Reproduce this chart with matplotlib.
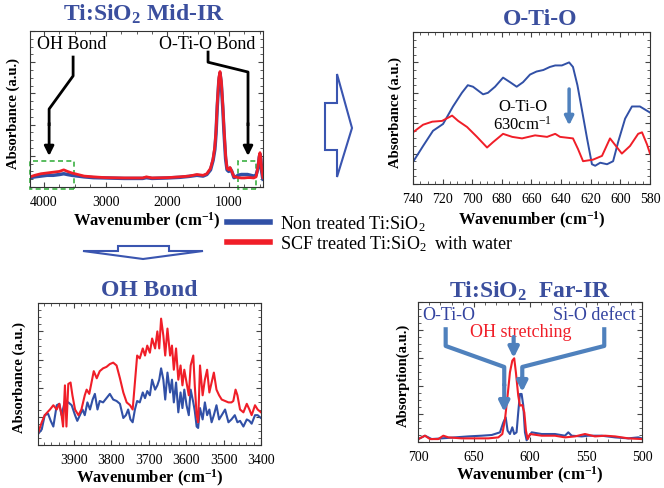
import matplotlib
matplotlib.use("Agg")
import matplotlib.pyplot as plt
from matplotlib.patches import Polygon, Rectangle
from matplotlib.lines import Line2D
from matplotlib.ticker import MultipleLocator

plt.rcParams['font.family'] = ['Liberation Serif', 'DejaVu Serif']
plt.rcParams['mathtext.default'] = 'regular'

BLUE = '#3150a6'
RED = '#f01e28'
TITLE = '#3b4f9e'
STEEL = '#4f81bd'

# ---- Mid-IR overview (wavenumber cm-1, absorbance a.u.)
mid_wn = [4225, 4150, 4050, 3950, 3850, 3750, 3680, 3620, 3550, 3450, 3350, 3200, 3000, 2700,
          2400, 2340, 2250, 2000, 1800, 1650, 1520, 1420, 1360, 1300, 1259, 1230, 1211, 1190,
          1165, 1146, 1125, 1100, 1081, 1055, 1032, 1005, 984, 955, 919, 890, 854, 800, 750,
          700, 650, 600, 562, 530, 510, 498, 485, 470, 455, 449]
mid_blue = [0.06, 0.065, 0.07, 0.075, 0.075, 0.08, 0.085, 0.08, 0.075, 0.07, 0.065, 0.06, 0.058,
            0.055, 0.055, 0.06, 0.055, 0.058, 0.062, 0.068, 0.075, 0.07, 0.08, 0.11, 0.17, 0.24,
            0.34, 0.52, 0.68, 0.73, 0.66, 0.50, 0.35, 0.18, 0.11, 0.10, 0.12, 0.10, 0.06, 0.065,
            0.075, 0.08, 0.08, 0.08, 0.075, 0.07, 0.075, 0.12, 0.19, 0.21, 0.18, 0.10, 0.06, 0.05]
mid_red = [0.065, 0.075, 0.085, 0.09, 0.095, 0.10, 0.11, 0.10, 0.09, 0.08, 0.07, 0.065, 0.06,
           0.058, 0.058, 0.065, 0.058, 0.06, 0.065, 0.07, 0.08, 0.075, 0.085, 0.12, 0.18, 0.26,
           0.36, 0.54, 0.70, 0.74, 0.68, 0.52, 0.37, 0.20, 0.12, 0.11, 0.125, 0.10, 0.065, 0.065,
           0.06, 0.058, 0.058, 0.06, 0.06, 0.058, 0.065, 0.13, 0.20, 0.22, 0.19, 0.11, 0.07, 0.06]

# ---- O-Ti-O zoom
oto_wn_b = [740, 733.2, 726.5, 719.7, 713, 707, 703, 699.5, 692.7, 689.4, 684.6, 679.2, 674.5,
            670, 665.7, 661, 656.6, 652, 647.6, 644, 639.5, 634.6, 632, 629, 626, 622.5, 619.2,
            617, 613.6, 609, 604.9, 601.4, 596.8, 592.2, 586.8, 583.4, 580]
oto_blue = [0.145, 0.25, 0.35, 0.395, 0.51, 0.60, 0.65, 0.64, 0.59, 0.60, 0.64, 0.70, 0.67, 0.64,
            0.67, 0.72, 0.74, 0.75, 0.77, 0.78, 0.78, 0.80, 0.77, 0.65, 0.49, 0.30, 0.13, 0.12,
            0.14, 0.13, 0.15, 0.28, 0.43, 0.51, 0.51, 0.49, 0.47]
oto_wn_r = [740, 733.2, 727, 720.4, 713.6, 709.5, 703.5, 696.8, 690, 686, 679.2, 673, 666.4, 657.6,
            649.5, 644, 640.7, 632, 628.6, 625.2, 618.5, 612.4, 607, 603, 599, 593.5, 588, 585.4,
            582, 580]
oto_red = [0.34, 0.39, 0.41, 0.415, 0.45, 0.415, 0.375, 0.31, 0.24, 0.275, 0.33, 0.31, 0.30, 0.32,
           0.31, 0.33, 0.31, 0.30, 0.23, 0.15, 0.16, 0.185, 0.30, 0.25, 0.20, 0.25, 0.33, 0.34,
           0.26, 0.20]

# ---- OH bond zoom
oh_wn_r = [3995, 3986, 3978, 3964, 3955, 3946, 3939, 3933, 3929, 3924, 3920, 3915, 3909, 3904,
           3897, 3888, 3880, 3871, 3866, 3859, 3853, 3847, 3839, 3831, 3822, 3813, 3804, 3795,
           3786, 3777, 3768, 3759, 3750, 3743, 3737, 3731, 3724, 3716, 3710, 3704, 3697, 3691,
           3683, 3677, 3672, 3667, 3661, 3656, 3650, 3643, 3638, 3633, 3627, 3621, 3615, 3610,
           3605, 3599, 3593, 3588, 3581, 3577, 3572, 3568, 3563, 3556, 3550, 3544, 3538, 3532,
           3526, 3519, 3512, 3505, 3496, 3487, 3479, 3474, 3468, 3463, 3456, 3447, 3438, 3431,
           3425, 3416, 3409, 3400]
oh_red = [0.09, 0.16, 0.21, 0.25, 0.28, 0.25, 0.29, 0.21, 0.13, 0.42, 0.13, 0.43, 0.44, 0.35,
          0.25, 0.21, 0.25, 0.35, 0.39, 0.36, 0.44, 0.52, 0.47, 0.52, 0.54, 0.55, 0.57, 0.58,
          0.56, 0.47, 0.37, 0.30, 0.28, 0.25, 0.44, 0.63, 0.61, 0.68, 0.63, 0.70, 0.65, 0.75,
          0.68, 0.80, 0.68, 0.89, 0.77, 0.63, 0.82, 0.63, 0.70, 0.53, 0.68, 0.46, 0.56, 0.42,
          0.53, 0.44, 0.35, 0.56, 0.63, 0.42, 0.21, 0.16, 0.56, 0.35, 0.46, 0.53, 0.37, 0.44,
          0.51, 0.39, 0.35, 0.32, 0.31, 0.30, 0.30, 0.31, 0.39, 0.35, 0.25, 0.23, 0.29, 0.25,
          0.21, 0.28, 0.25, 0.23]
oh_wn_b = [3995, 3986, 3978, 3969, 3962, 3955, 3946, 3939, 3933, 3924, 3915, 3906, 3897, 3891,
           3884, 3877, 3871, 3864, 3857, 3850, 3844, 3837, 3831, 3822, 3813, 3804, 3795, 3786,
           3777, 3768, 3761, 3755, 3749, 3743, 3737, 3731, 3724, 3716, 3710, 3704, 3697, 3691,
           3683, 3677, 3672, 3667, 3661, 3656, 3650, 3643, 3638, 3633, 3627, 3621, 3615, 3610,
           3605, 3599, 3593, 3588, 3581, 3577, 3572, 3568, 3563, 3556, 3550, 3544, 3538, 3532,
           3526, 3519, 3512, 3505, 3496, 3487, 3479, 3470, 3463, 3456, 3447, 3438, 3431, 3425,
           3416, 3409, 3400]
oh_blue = [0.08, 0.11, 0.21, 0.22, 0.17, 0.13, 0.28, 0.29, 0.21, 0.31, 0.30, 0.28, 0.21, 0.17,
           0.21, 0.25, 0.21, 0.30, 0.25, 0.32, 0.36, 0.25, 0.31, 0.30, 0.33, 0.36, 0.32, 0.31,
           0.29, 0.19, 0.21, 0.25, 0.18, 0.16, 0.25, 0.31, 0.30, 0.37, 0.33, 0.38, 0.35, 0.46,
           0.39, 0.42, 0.46, 0.54, 0.46, 0.32, 0.51, 0.37, 0.46, 0.30, 0.44, 0.23, 0.37, 0.26,
           0.39, 0.28, 0.21, 0.39, 0.30, 0.24, 0.13, 0.12, 0.26, 0.18, 0.30, 0.21, 0.25, 0.16,
           0.21, 0.28, 0.18, 0.21, 0.25, 0.16, 0.18, 0.21, 0.16, 0.17, 0.13, 0.18, 0.17, 0.15,
           0.21, 0.21, 0.19]

# ---- Far-IR
far_wn_b = [699.7, 693.8, 687.8, 678.9, 667, 655, 643.2, 634.2, 626.8, 623.8, 621.7, 620, 617.9,
            615.8, 614.1, 612, 610.5, 609, 607.5, 606, 604.5, 603, 601.5, 598.5, 589.6, 577.7,
            568.8, 565.8, 562.8, 553.9, 547.9, 536, 524, 512.2, 503.3, 500.3]
far_blue = [0.021, 0.045, 0.021, 0.026, 0.033, 0.040, 0.045, 0.050, 0.069, 0.14, 0.176, 0.081,
            0.057, 0.105, 0.057, 0.069, 0.212, 0.343, 0.343, 0.26, 0.069, 0.012, 0.033, 0.069,
            0.057, 0.057, 0.045, 0.069, 0.045, 0.040, 0.045, 0.045, 0.033, 0.026, 0.033, 0.026]
far_wn_r = [699.7, 693.8, 689.3, 681.8, 677.4, 672.9, 661, 649, 637.2, 628.3, 624.7, 622.3, 620,
            617.9, 615.8, 614.1, 612.6, 610.5, 609, 606.9, 605.1, 603.6, 602.1, 600, 589.6, 577.7,
            568.8, 559.8, 550.9, 542, 533, 524, 512.2, 500.3]
far_red = [0.021, 0.045, 0.021, 0.021, 0.045, 0.033, 0.026, 0.026, 0.026, 0.033, 0.057, 0.164,
           0.331, 0.498, 0.581, 0.598, 0.498, 0.331, 0.26, 0.264, 0.212, 0.081, 0.021, 0.057,
           0.045, 0.045, 0.033, 0.040, 0.057, 0.040, 0.045, 0.040, 0.026, 0.021]

W, H = 664, 489
fig = plt.figure(figsize=(W / 100, H / 100), dpi=100)


def box(x0, y0, x1, y1):
    return [x0 / W, 1 - y1 / H, (x1 - x0) / W, (y1 - y0) / H]


def px(x, y):
    return (x / W, 1 - y / H)


def style(ax, xlim, xmaj, xmin, title, tx, ty, ylabel, yx, xly):
    ax.set_xlim(*xlim)
    ax.set_ylim(0, 1)
    ax.xaxis.set_major_locator(MultipleLocator(xmaj))
    ax.xaxis.set_minor_locator(MultipleLocator(xmin))
    ax.yaxis.set_major_locator(MultipleLocator(0.2))
    ax.yaxis.set_minor_locator(MultipleLocator(0.05))
    ax.tick_params(which='both', direction='in', top=True, right=True, labelleft=False,
                   labelsize=10, pad=6, color='#444444')
    ax.tick_params(which='major', length=3.5)
    ax.tick_params(which='minor', length=2)
    for s in ax.spines.values():
        s.set_linewidth(0.8)
        s.set_color('#333333')
    ax.text(tx, ty, title, transform=ax.transAxes, ha='center', va='center',
            fontsize=17, fontweight='bold', color=TITLE)
    ax.text(yx, 0.48, ylabel, transform=ax.transAxes, rotation=90, ha='center', va='center',
            fontsize=10.5, fontweight='bold')
    ax.text(0.5, xly, r'Wavenumber (cm$^{-1}$)', transform=ax.transAxes, ha='center',
            va='center', fontsize=12, fontweight='bold')


# Mid-IR
ax1 = fig.add_axes(box(30, 32, 263, 188))
ax1.plot(mid_wn, mid_blue, color=BLUE, lw=2.5)
ax1.plot(mid_wn, mid_red, color=RED, lw=2.0)
style(ax1, (4227, 449), 1000, 250, r'Ti:SiO$_2$ Mid-IR', 0.49, 1.11,
      'Absorbance (a.u.)', -0.073, -0.215)
ax1.set_xticks([4000, 3000, 2000, 1000])
ax1.text(4112, 0.917, 'OH Bond', fontsize=13, ha='left', va='center')
ax1.text(1357, 0.917, 'O-Ti-O Bond', fontsize=13, ha='center', va='center')
arrow_k = dict(arrowstyle='-|>', color='k', lw=2, mutation_scale=14, shrinkA=0, shrinkB=0)
ax1.plot([3528, 3528, 3917, 3917], [0.833, 0.712, 0.5, 0.40], color='k', lw=2)
ax1.annotate('', xy=(3917, 0.199), xytext=(3917, 0.41), arrowprops=arrow_k)
ax1.plot([1340, 1340, 692, 692], [0.865, 0.80, 0.737, 0.40], color='k', lw=2)
ax1.annotate('', xy=(692, 0.199), xytext=(692, 0.41), arrowprops=arrow_k)
for x0, x1 in [(4227, 3512), (854, 562)]:
    ax1.add_patch(Rectangle((x1, -0.012), x0 - x1, 0.18, fill=False, ec='#3cb043',
                            ls=(0, (3, 2)), lw=1.2, clip_on=False))

# O-Ti-O
ax2 = fig.add_axes(box(413, 33, 650, 185))
ax2.plot(oto_wn_b, oto_blue, color=BLUE, lw=1.4)
ax2.plot(oto_wn_r, oto_red, color=RED, lw=1.4)
style(ax2, (740, 580), 20, 5, 'O-Ti-O', 0.536, 1.086,
      'Absorbance (a.u.)', -0.076, -0.23)
ax2.text(665.7, 0.513, 'O-Ti-O', fontsize=12, ha='center', va='center')
ax2.text(665.7, 0.395, r'630cm$^{-1}$', fontsize=12, ha='center', va='center')
ax2.annotate('', xy=(634.6, 0.385), xytext=(634.6, 0.625),
             arrowprops=dict(arrowstyle='-|>', color=STEEL, lw=2.5, mutation_scale=13,
                             shrinkA=0, shrinkB=0))

# OH bond
ax3 = fig.add_axes(box(38, 304, 261, 446))
ax3.plot(oh_wn_b, oh_blue, color=BLUE, lw=1.5)
ax3.plot(oh_wn_r, oh_red, color=RED, lw=1.5)
style(ax3, (3996, 3400), 100, 20, 'OH Bond', 0.50, 1.092,
      'Absorbance (a.u.)', -0.085, -0.225)

# Far-IR
ax4 = fig.add_axes(box(418, 303, 642, 443))
ax4.plot(far_wn_b, far_blue, color=BLUE, lw=1.5)
ax4.plot(far_wn_r, far_red, color=RED, lw=1.5)
style(ax4, (700, 500), 50, 10, r'Ti:SiO$_2$  Far-IR', 0.50, 1.086,
      'Absorption(a.u.)', -0.067, -0.229)
ax4.text(672.3, 0.914, 'O-Ti-O', fontsize=13, color='#3444a0', ha='center', va='center')
ax4.text(542.9, 0.914, 'Si-O defect', fontsize=13, color='#3444a0', ha='center', va='center')
ax4.text(608, 0.79, 'OH stretching', fontsize=13, color=RED, ha='center', va='center')
arrow_s = dict(arrowstyle='-|>', color=STEEL, lw=3, mutation_scale=15, shrinkA=0, shrinkB=0)
ax4.plot([675.3, 675.3, 623, 623], [0.82, 0.686, 0.536, 0.40], color=STEEL, lw=3,
         solid_capstyle='butt')
ax4.annotate('', xy=(623, 0.214), xytext=(623, 0.41), arrowprops=arrow_s)
ax4.plot([533.7, 533.7, 606.9, 606.9], [0.82, 0.686, 0.536, 0.45], color=STEEL, lw=3,
         solid_capstyle='butt')
ax4.annotate('', xy=(606.9, 0.357), xytext=(606.9, 0.46), arrowprops=arrow_s)
ax4.annotate('', xy=(614.6, 0.60), xytext=(614.6, 0.75), arrowprops=arrow_s)

# block arrows between panels
ARROW = '#3a55b0'
fig.add_artist(Polygon([px(325, 104), px(337, 104), px(337, 75), px(352, 129), px(337, 178),
                        px(337, 151), px(325, 151)], closed=True, transform=fig.transFigure,
                       fc='white', ec=ARROW, lw=1.5))
fig.add_artist(Polygon([px(118, 247), px(169, 247), px(169, 252), px(203, 252), px(143, 260),
                        px(83, 252), px(118, 252)], closed=True, transform=fig.transFigure,
                       fc='white', ec=ARROW, lw=1.5))

# legend
handles = [Line2D([], [], color=BLUE, lw=4), Line2D([], [], color=RED, lw=4)]
labels = [r'Non treated Ti:SiO$_2$', r'SCF treated Ti:SiO$_2$  with water']
fig.legend(handles, labels, loc='center left', bbox_to_anchor=px(227, 234), frameon=False,
           fontsize=13, handlelength=2.4, handletextpad=0.55, labelspacing=0.0,
           borderpad=0, borderaxespad=0)

fig.savefig('out.png', dpi=100)
